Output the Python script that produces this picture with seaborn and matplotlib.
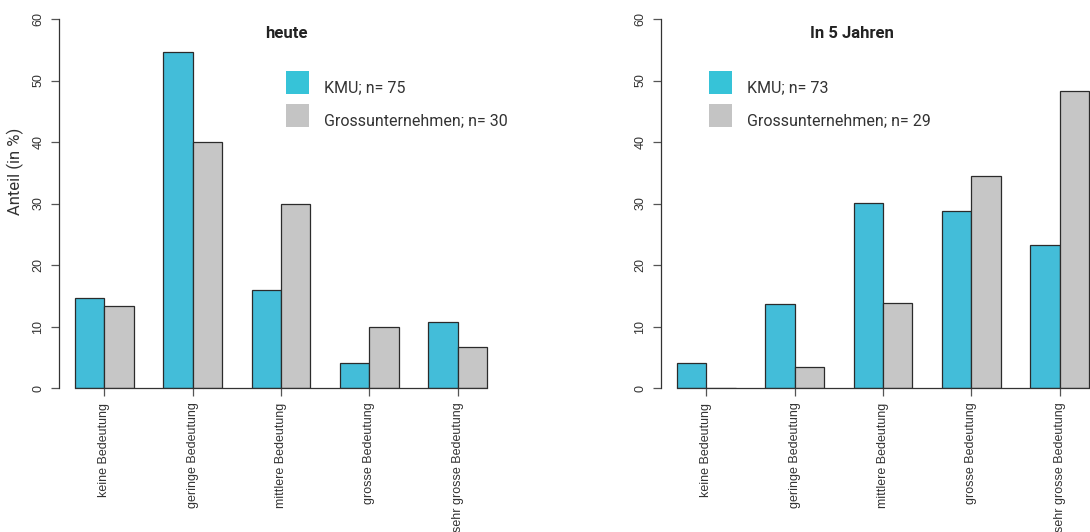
import matplotlib
matplotlib.use("Agg")
import matplotlib.pyplot as plt
from matplotlib.patches import Patch, Rectangle
from matplotlib.legend_handler import HandlerPatch
import pandas as pd
import seaborn as sb

# data (Anteil in %)
categories = ["keine Bedeutung", "geringe Bedeutung", "mittlere Bedeutung",
              "grosse Bedeutung", "sehr grosse Bedeutung"]
groups = ["KMU", "Grossunternehmen"]

heute_kmu = [14.7, 54.7, 16.0, 4.0, 10.7]
heute_gross = [13.3, 40.0, 30.0, 10.0, 6.7]
heute_n = [75, 30]

jahre5_kmu = [4.1, 13.7, 30.1, 28.8, 23.3]
jahre5_gross = [0.0, 3.4, 13.8, 34.5, 48.3]
jahre5_n = [73, 29]

titles = ["heute", "In 5 Jahren"]
ylabel = "Anteil (in %)"
yticks = [0, 10, 20, 30, 40, 50, 60]

bar_colors = {"KMU": "#43BDD9", "Grossunternehmen": "#C6C6C6"}
legend_colors = ["#36C3D8", "#C4C4C4"]

W, H = 1090, 532


def long_frame(kmu, gross):
    rows = []
    for cat, a, b in zip(categories, kmu, gross):
        rows.append({"Bedeutung": cat, "Gruppe": "KMU", "Anteil": a})
        rows.append({"Bedeutung": cat, "Gruppe": "Grossunternehmen", "Anteil": b})
    return pd.DataFrame(rows)


def swatch(legend, orig_handle, xdescent, ydescent, width, height, fontsize):
    # square sits in the top part of the handle box, so the text ends up a bit lower (like R)
    off = height * 10 / 33
    return Rectangle((-xdescent, -ydescent + off), width, height - off)


def draw_panel(ax, df, title, n, title_x, legend_x):
    sb.barplot(data=df, x="Bedeutung", y="Anteil", hue="Gruppe", order=categories,
               hue_order=groups, palette=bar_colors, width=2 / 3, saturation=1,
               errorbar=None, edgecolor="#2b2b2b", linewidth=0.9, legend=False, ax=ax)
    ax.set_xlim(-0.514, 4.52)
    ax.set_ylim(0, 60)
    ax.set_yticks(yticks)
    ax.set_xlabel("")
    ax.set_ylabel("")
    for s in ["top", "right"]:
        ax.spines[s].set_visible(False)
    ax.spines["left"].set_bounds(0, 60)
    ax.spines["bottom"].set_bounds(-1 / 3, 4 + 1 / 3)
    for s in ["left", "bottom"]:
        ax.spines[s].set_color("#333333")
        ax.spines[s].set_linewidth(0.9)
    ax.tick_params(axis="both", bottom=True, left=True, direction="out", length=5.5,
                   width=0.9, color="#555555", labelsize=9, labelcolor="#333333", pad=5)
    ax.tick_params(axis="x", labelrotation=90)
    for lab in ax.get_yticklabels():
        lab.set_rotation(90)
        lab.set_va("center")
        lab.set_fontfamily("Liberation Sans")
    for lab in ax.get_xticklabels():
        lab.set_fontfamily("Liberation Sans")
    ax.grid(False)

    fig.text(title_x / W, 1 - 33 / H, title, ha="center", va="center",
             fontsize=12, fontweight="bold", color="#222222", family="Roboto")

    handles = [Patch(facecolor=c, edgecolor="none") for c in legend_colors]
    labels = ["KMU; n= %d" % n[0], "Grossunternehmen; n= %d" % n[1]]
    ax.legend(handles, labels, loc="upper left", bbox_to_anchor=(legend_x / W, 1 - 71 / H),
              bbox_transform=fig.transFigure, frameon=False, borderpad=0, borderaxespad=0,
              handlelength=1.44, handleheight=2.8, handletextpad=0.95, labelspacing=0.0,
              handler_map={Patch: HandlerPatch(patch_func=swatch)},
              prop={"family": "Roboto", "size": 11.5}, labelcolor="#333333")


sb.set_style("white")
fig = plt.figure(figsize=(W / 100, H / 100), dpi=100)
bottom = (H - 388) / H
height = 369 / H
ax1 = fig.add_axes([59 / W, bottom, 444.5 / W, height])
ax2 = fig.add_axes([661 / W, bottom, 444.5 / W, height])

draw_panel(ax1, long_frame(heute_kmu, heute_gross), titles[0], heute_n, 286, 286)
draw_panel(ax2, long_frame(jahre5_kmu, jahre5_gross), titles[1], jahre5_n, 852, 709)

fig.text(15 / W, 1 - 171 / H, ylabel, rotation=90, ha="center", va="center",
         fontsize=12, color="#333333", family="Roboto")

fig.savefig("out.png", dpi=100)
plt.close(fig)
